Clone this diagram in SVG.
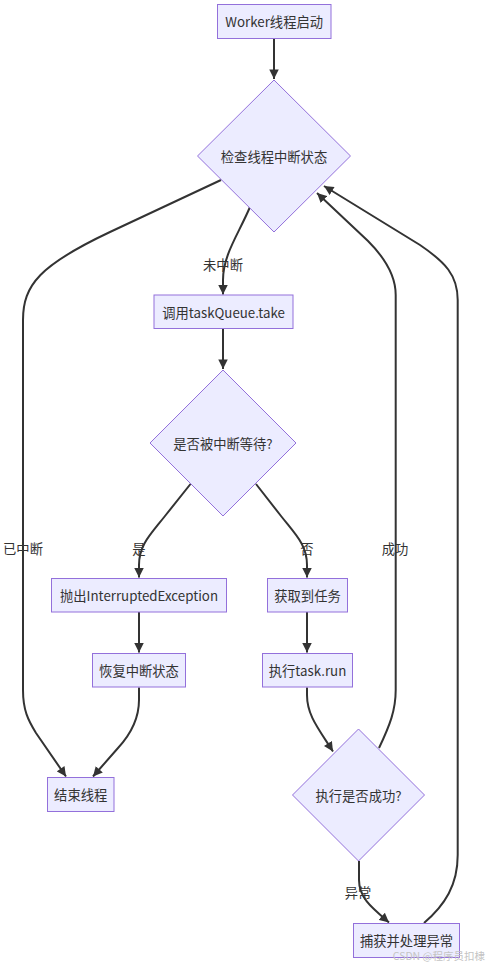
<svg xmlns="http://www.w3.org/2000/svg" width="487" height="966" viewBox="0 0 487 966">
<style>
.node rect, .node polygon { fill: #ECECFF; stroke: #9370DB; stroke-width: 1; }
.node text, .lbl { font-family: "Noto Sans CJK SC", "Microsoft YaHei", sans-serif; font-size: 13.3px; fill: #333; text-anchor: middle; dominant-baseline: central; }
.edges path { fill: none; stroke: #333; stroke-width: 2; marker-end: url(#arr); }
.wm { font-family: "Noto Sans CJK SC", sans-serif; font-size: 10.5px; fill: #c4c4c4; text-anchor: end; }
</style>
<defs>
<marker id="arr" viewBox="0 0 10 10" refX="10" refY="5" markerWidth="10" markerHeight="9.5" markerUnits="userSpaceOnUse" orient="auto">
<path d="M0,0 L10,5 L0,10 z" fill="#333"/>
</marker>
</defs>
<rect width="487" height="966" fill="#fff"/>
<g class="edges">
<path d="M274,38.5 L274,79"/>
<path d="M250,207 C238,235 223,255 223,280 L223,294.5"/>
<path d="M221,180 L110,232 C40,265 23,285 23,320 L23,690 C23,710 28,720 36,733 L66,776.5"/>
<path d="M223,328.5 L223,369"/>
<path d="M190.5,484 L165,516 C150,535 139,545 139,565 L139,577.5"/>
<path d="M256,484 L281,516 C296,535 307,545 307,565 L307,577.5"/>
<path d="M139,612 L139,652.5"/>
<path d="M307,612 L307,652.5"/>
<path d="M139,687.5 L139,700 C139,720 130,735 118,748 L93,776.5"/>
<path d="M307,687.5 L307,695 C307,715 318,728 333,751.5"/>
<path d="M379,748 C390,725 395.7,710 395.7,690 L395.7,295 C395.7,275 385,258 368,241 L317,193"/>
<path d="M359,861 L359,880 C359,898 372,908 389,922.5"/>
<path d="M424,923 C445,905 457.7,885 457.7,855 L457.7,300 C457.7,275 445,262 420,245 L324,186"/>
</g>
<g class="edge-labels">
<text class="lbl" x="223" y="264">未中断</text>
<text class="lbl" x="23" y="548">已中断</text>
<text class="lbl" x="139" y="548">是</text>
<text class="lbl" x="307" y="548">否</text>
<text class="lbl" x="395" y="548">成功</text>
<text class="lbl" x="358" y="892">异常</text>
</g>
<g id="start" class="node"><rect x="217.5" y="4.5" width="113.5" height="34"/><text x="274.2" y="21.5">Worker线程启动</text></g>
<g id="check" class="node"><polygon points="274,80 350.5,156 274,232 197.5,156"/><text x="274" y="156">检查线程中断状态</text></g>
<g id="take" class="node"><rect x="154" y="295" width="139" height="33.5"/><text x="223.5" y="312">调用taskQueue.take</text></g>
<g id="waiting" class="node"><polygon points="223,370 296,443 223,516 150,443"/><text x="223" y="443">是否被中断等待?</text></g>
<g id="throw" class="node"><rect x="51.5" y="578.5" width="175" height="33.5"/><text x="139" y="595.5">抛出InterruptedException</text></g>
<g id="gettask" class="node"><rect x="267.5" y="578.5" width="80" height="33.5"/><text x="307.5" y="595.5">获取到任务</text></g>
<g id="restore" class="node"><rect x="92.5" y="653.5" width="93" height="33.5"/><text x="139" y="670.5">恢复中断状态</text></g>
<g id="run" class="node"><rect x="262.5" y="653.5" width="90" height="33.5"/><text x="307.5" y="670.5">执行task.run</text></g>
<g id="end" class="node"><rect x="47.5" y="777.5" width="66.5" height="34"/><text x="80.7" y="794.5">结束线程</text></g>
<g id="success" class="node"><polygon points="358.5,729 424.5,795 358.5,861 292.5,795"/><text x="358.5" y="795">执行是否成功?</text></g>
<g id="catch" class="node"><rect x="353.5" y="923.5" width="106" height="34"/><text x="406.5" y="940">捕获并处理异常</text></g>
<text class="wm" x="485" y="960">CSDN @程序员扣棣</text>
</svg>
